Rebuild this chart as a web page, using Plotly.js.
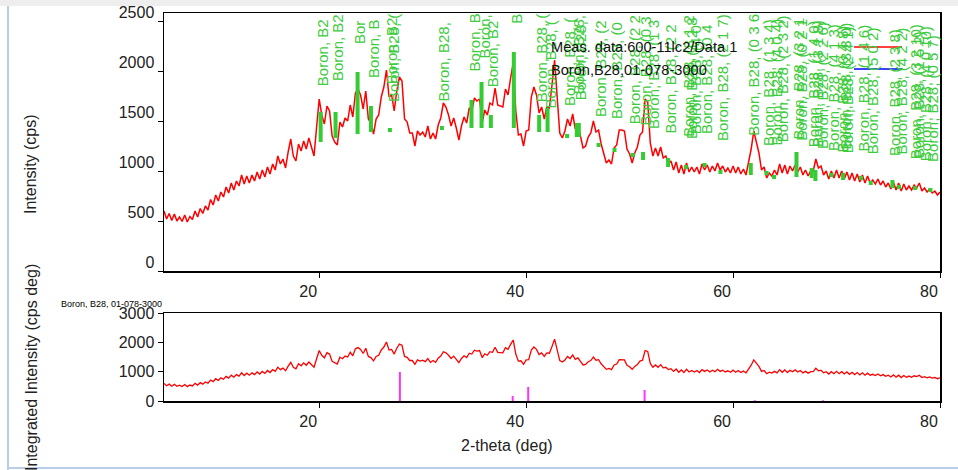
<!DOCTYPE html>
<html><head><meta charset="utf-8">
<script src="https://cdn.plot.ly/plotly-3.0.1.min.js"></script>
<style>html,body{margin:0;padding:0;background:#fff}#chart{width:958px;height:470px}</style>
</head><body><div id="chart"></div>
<script>
// ---- data ----
const twoThetaStart = 5;
const twoThetaStep = 0.25;
const intensity = [
600,520,575,505, 570,500,540,495, 560,490,545,515, 600,540,625,575,
650,610,715,660, 760,700,790,740, 840,780,880,810, 900,850,960,870,
950,880,960,900, 990,920,1010,940, 1040,970,1070,1010, 1150,1070,1120,1030,
1190,1320,1150,1100, 1270,1200,1300,1220, 1330,1240,1150,1440, 1720,1560,1470,1650,
1600,1350,1290,1260, 1490,1440,1530,1500, 1660,1540,1780,1820, 1760,1620,1800,1520,
1480,1370,1520,1560, 1740,1840,2010,1740, 1760,1600,1800,1940, 1900,1520,1490,1380,
1380,1250,1400,1360, 1390,1340,1450,1320, 1380,1320,1460,1530, 1680,1640,1560,1450,
1530,1430,1310,1450, 1540,1480,1630,1600, 1730,1700,1720,1480, 1610,1560,1680,1660,
1830,1660,1650,1640, 1820,1760,1930,2080, 1600,1360,1370,1250, 1400,1410,1740,1840,
1760,1580,1640,1520, 1640,1630,1860,2110, 1740,1380,1330,1400, 1520,1450,1570,1420,
1470,1360,1230,1250, 1340,1380,1500,1390, 1410,1270,1170,1080, 1110,1070,1230,1260,
1410,1410,1400,1220, 1170,1080,1180,1240, 1360,1390,1720,1690, 1280,1150,1230,1150,
1240,1130,1150,1070, 1100,1010,1090,980, 1060,970,1080,990, 1040,990,1040,970,
1070,1010,1060,990, 1050,1000,1080,1010, 1050,990,1030,980, 1050,980,1040,970,
1020,960,1090,1220, 1400,1300,1180,1010, 1040,930,980,950, 1010,960,1070,980,
1060,970,1050,1000, 1060,990,1040,960, 1010,950,1000,1000, 1120,1030,1050,960,
1000,920,1000,930, 1010,930,1000,920, 990,910,980,900, 970,890,960,880,
950,880,910,870, 920,860,900,840, 880,820,890,810, 880,800,870,810,
850,810,860,830, 880,800,830,790, 820,780,800,760, 790
];
// reference (Boron, B28, 01-078-3000) line positions, label start heights and hkl
const refPositions = [20.14,21.58,23.71,25.0,26.83,26.95,31.86,34.72,35.69,36.59,38.81,41.26,42.07,43.96,44.90,45.09,47.0,48.54,50.31,51.30,52.12,53.72,55.43,55.75,56.21,57.24,58.78,61.71,63.23,63.96,64.61,66.13,66.35,67.6,67.96,68.44,69.51,70.43,70.63,70.89,72.37,73.31,75.4,76.04,77.46,77.72,78.43,79.07];
const refLabelBase = [1840,1890,2260,1920,1860,1680,1690,1980,2110,1830,2460,1680,1610,1640,1760,1700,1530,1510,1460,1440,1410,1360,1330,1310,1360,1360,1290,1340,1240,1240,1280,1310,1290,1230,1230,1210,1190,1180,1200,1170,1180,1160,1140,1150,1110,1120,1090,1080];
const refHkl = ["(1 0 1)","(0 0 3)","(0 1 2)","(1 1 0)","(1 0 4)","(0 2 1)","(2 0 2)","(0 1 5)","(1 1 3)","(2 1 1)","(0 2 4)","(1 2 2)","(2 0 5)","(3 0 0)","(1 0 7)","(1 2 5)","(2 1 4)","(0 0 9)","(2 2 0)","(0 3 3)","(1 3 1)","(2 2 3)","(3 1 2)","(1 2 8)","(4 0 1)","(0 4 2)","(2 1 7)","(0 3 6)","(1 3 4)","(4 0 4)","(2 3 2)","(3 2 1)","(0 2 10)","(1 4 0)","(3 1 8)","(2 2 6)","(4 1 3)","(0 4 8)","(3 3 0)","(2 4 1)","(1 4 6)","(5 0 2)","(2 3 8)","(4 2 2)","(3 2 10)","(1 5 2)","(4 0 10)","(0 5 7)"];
// green segments drawn over the measured data
const greenPos  = [20.14,21.58,23.71,25.0,26.83,31.86,34.72,35.69,36.59,38.81,41.26,42.07,43.96,44.9,45.09,47.0,48.54,50.31,51.30,53.72,55.43,57.24,58.78,61.71,63.23,63.96,66.13,67.6,67.96,69.51,70.63,72.37,73.31,75.4,76.04,77.6,79.07];
const greenLow  = [1290,1330,1370,1390,1390,1410,1430,1430,1430,1430,1390,1390,1330,1340,1340,1240,1190,1140,1110,1040,1020,1040,970,960,960,920,940,930,900,940,910,910,860,830,820,810,790];
const greenHigh = [1590,1590,1990,1650,1430,1450,1710,1890,1560,2190,1560,1630,1370,1480,1480,1280,1230,1180,1190,1130,1060,1080,1010,1080,1000,960,1190,1030,1010,980,980,950,900,910,860,850,830];
// integrated intensity sticks (lower panel)
const stickPos = [27.8,38.7,40.2,51.45,62.1,68.7];
const stickHeight = [990,170,480,375,25,25];
const xTicks = [20,40,60,80];
const yTicksTop = [0,500,1000,1500,2000,2500];
const yTicksBottom = [0,1000,2000,3000];
const legendLabels = ["Meas. data:600-11lc2/Data 1","Boron,B28,01-078-3000"];
const phaseLabel = "Boron, B28, 01-078-3000";

// ---- build ----
const twoTheta = intensity.map((_, i) => twoThetaStart + i * twoThetaStep);
const topMax = 2580;
const FONT = '"Liberation Sans", Arial, sans-serif';

function segs(pos, lo, hi) {
  const x = [], y = [];
  pos.forEach((p, i) => { x.push(p, p, null); y.push(lo[i], hi[i], null); });
  return {x, y};
}
const g = segs(greenPos, greenLow, greenHigh);
const st = segs(stickPos, stickPos.map(() => 0), stickHeight);

const traces = [
  {x: twoTheta, y: intensity, type: 'scatter', mode: 'lines', xaxis: 'x', yaxis: 'y',
   line: {color: '#ff0000', width: 1.5}, hoverinfo: 'skip'},
  {x: g.x, y: g.y, type: 'scatter', mode: 'lines', xaxis: 'x', yaxis: 'y',
   line: {color: '#33cc33', width: 4}, connectgaps: false, hoverinfo: 'skip'},
  {x: twoTheta, y: intensity, type: 'scatter', mode: 'lines', xaxis: 'x2', yaxis: 'y2',
   line: {color: '#ff0000', width: 1.3}, hoverinfo: 'skip'},
  {x: st.x, y: st.y, type: 'scatter', mode: 'lines', xaxis: 'x2', yaxis: 'y2',
   line: {color: '#ff33ff', width: 2}, connectgaps: false, hoverinfo: 'skip'},
  {x: refPositions, y: refPositions.map(() => 3430), type: 'scatter', mode: 'markers',
   xaxis: 'x2', yaxis: 'y2', cliponaxis: false,
   marker: {symbol: 'line-ns', size: 8, line: {color: '#0000ff', width: 2}}, hoverinfo: 'skip'}
];

const LABEL_SIZE = 15;
const ctx = document.createElement('canvas').getContext('2d');
ctx.font = LABEL_SIZE + 'px "Liberation Sans"';
function fit(text, avail) {
  while (text.length && ctx.measureText(text).width > avail) text = text.slice(0, -1);
  return text;
}
const plotTopHeightPx = 258;
const annotations = refPositions.map((p, i) => {
  const avail = (topMax - refLabelBase[i]) / topMax * plotTopHeightPx - 1;
  return {x: p, y: refLabelBase[i], xref: 'x', yref: 'y', xshift: 2,
    text: fit('Boron, B28, ' + refHkl[i], avail), textangle: -90,
    showarrow: false, xanchor: 'center', yanchor: 'bottom', borderpad: 0,
    font: {family: FONT, size: LABEL_SIZE, color: '#3ccc3c'}};
});
const W = 776, H = 388;
const px = v => (v - 164) / W, py = v => (401 - v) / H;
function paperText(text, x, y, size, color, extra) {
  return Object.assign({x: px(x), y: py(y), xref: 'paper', yref: 'paper', xanchor: 'center',
    yanchor: 'middle', text, showarrow: false, font: {family: FONT, size, color}}, extra || {});
}
annotations.push(
  paperText(legendLabels[0], 549, 47, 14.6, '#111', {xanchor: 'left'}),
  paperText(legendLabels[1], 549, 70, 14.6, '#111', {xanchor: 'left'}),
  paperText('Intensity (cps)', 31, 164, 16, '#222', {textangle: -90}),
  paperText('Integrated Intensity (cps deg)', 31, 368, 16, '#222', {textangle: -90}),
  paperText('2-theta (deg)', 507, 445, 16, '#222'),
  paperText(phaseLabel, 164, 304, 9, '#000', {xanchor: 'right'})
);

const shapes = [
  {type: 'line', xref: 'paper', yref: 'paper', x0: px(854), x1: px(902), y0: py(47), y1: py(47), line: {color: '#ff0000', width: 1.5}},
  {type: 'line', xref: 'paper', yref: 'paper', x0: px(854), x1: px(902), y0: py(69), y1: py(69), line: {color: '#0000ff', width: 1.5}},
  {type: 'rect', xref: 'paper', yref: 'paper', x0: px(0), x1: px(958), y0: py(0), y1: py(6), fillcolor: '#eeeeee', line: {width: 0}, layer: 'above'},
  {type: 'line', xref: 'paper', yref: 'paper', x0: px(8), x1: px(8), y0: py(6), y1: py(470), line: {color: '#b9cde5', width: 2}, layer: 'above'},
  {type: 'line', xref: 'paper', yref: 'paper', x0: px(8), x1: px(958), y0: py(468), y1: py(468), line: {color: '#b9cde5', width: 2}, layer: 'above'}
];

const axisCommon = {showline: true, mirror: true, linecolor: '#000', linewidth: 1.5,
  showgrid: false, zeroline: false, ticks: 'outside', ticklen: 5, tickcolor: '#000',
  tickfont: {family: FONT, size: 16, color: '#222'}};
const layout = {
  width: 958, height: 470, margin: {l: 164, r: 18, t: 13, b: 69},
  paper_bgcolor: '#fff', plot_bgcolor: '#fff', showlegend: false,
  xaxis: Object.assign({}, axisCommon, {range: [5, 80], anchor: 'y', tickvals: xTicks, ticklabelshift: -11}),
  yaxis: Object.assign({}, axisCommon, {range: [0, topMax], domain: [py(271), 1], tickvals: yTicksTop, ticklabelshift: -9}),
  xaxis2: Object.assign({}, axisCommon, {range: [5, 80], anchor: 'y2', tickvals: xTicks, ticklabelshift: -11}),
  yaxis2: Object.assign({}, axisCommon, {range: [0, 3000], domain: [0, py(313)], tickvals: yTicksBottom}),
  annotations, shapes
};
Plotly.newPlot('chart', traces, layout, {staticPlot: true});
</script></body></html>
